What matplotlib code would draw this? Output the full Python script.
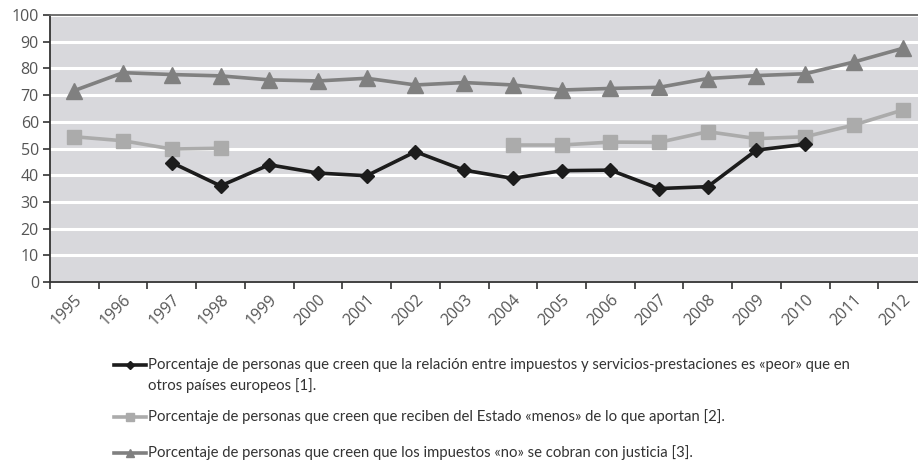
import numpy as np
import matplotlib
matplotlib.use("Agg")
import matplotlib.pyplot as plt
from matplotlib.lines import Line2D
from matplotlib.ticker import FixedLocator

years = ["1995", "1996", "1997", "1998", "1999", "2000", "2001", "2002", "2003",
         "2004", "2005", "2006", "2007", "2008", "2009", "2010", "2011", "2012"]

# [1] relación impuestos / servicios-prestaciones "peor" que en otros países europeos
peor = [np.nan, np.nan, 44.7, 36.0, 43.9, 40.8, 39.8, 48.8, 41.9,
        38.8, 41.7, 41.9, 35.0, 35.7, 49.4, 51.6, np.nan, np.nan]
# [2] reciben del Estado "menos" de lo que aportan
menos = [54.4, 52.9, 49.8, 50.1, np.nan, np.nan, np.nan, np.nan, np.nan,
         51.3, 51.3, 52.4, 52.3, 56.3, 53.7, 54.4, 58.8, 64.4]
# [3] los impuestos "no" se cobran con justicia
no_justicia = [71.7, 78.4, 77.7, 77.2, 75.7, 75.3, 76.3, 73.8, 74.7,
               73.8, 71.9, 72.5, 72.9, 76.2, 77.3, 78.0, 82.4, 87.5]

labels = [
    "Porcentaje de personas que creen que la relación entre impuestos y servicios-prestaciones es «peor» que en\notros países europeos [1].",
    "Porcentaje de personas que creen que reciben del Estado «menos» de lo que aportan [2].",
    "Porcentaje de personas que creen que los impuestos «no» se cobran con justicia [3].",
]

W, H = 918, 465
fig = plt.figure(figsize=(W / 100, H / 100), dpi=100)
ax = fig.add_axes([50 / W, 1 - 282 / H, 877 / W, 267 / H])
ax.set_facecolor("#d8d8dc")

styles = [
    dict(color="#1c1c1c", lw=2.6, marker="D", ms=7, zorder=5),
    dict(color="#ababab", lw=2.6, marker="s", ms=10, zorder=4),
    dict(color="#808080", lw=2.6, marker="^", ms=11, zorder=3),
]

x = np.arange(len(years))
for series, st in zip([peor, menos, no_justicia], styles):
    ax.plot(x, series, **st)

ax.set_xlim(-0.5, len(years) - 0.5)
ax.set_ylim(0, 100)
ax.set_yticks(np.arange(0, 101, 10))
ax.yaxis.grid(True, color="white", lw=2.2)
ax.set_axisbelow(True)

tick_font = ["Open Sans", "DejaVu Sans"]
ax.set_xticks(x)
ax.set_xticklabels(years, rotation=45, ha="right", rotation_mode="anchor",
                   fontsize=11.5, color="#555555", family=tick_font)
ax.tick_params(axis="x", which="major", length=0, pad=7)
# tick marks sit on the category boundaries
ax.xaxis.set_minor_locator(FixedLocator(np.arange(-0.5, len(years), 1.0)))
ax.tick_params(axis="x", which="minor", length=5, width=1.2, color="#333333")
for t in ax.get_yticklabels():
    t.set_family(tick_font)
ax.tick_params(axis="y", length=5, width=1.2, color="#333333", labelsize=11.5,
               labelcolor="#555555", pad=3)

for side in ("left", "bottom", "top"):
    ax.spines[side].set_color("#333333")
    ax.spines[side].set_linewidth(1.3)
ax.spines["top"].set_color("#666666")
ax.spines["right"].set_visible(False)

# Legend below the plot: a short keyed line per series, text to its right
legend_font = dict(fontsize=10.7, color="#333333", family=["Lato", "DejaVu Sans"])
key_x0, key_x1, text_x = 114, 146, 148
row_y = [365, 417, 453]
marker_scale = [0.64, 0.6, 0.56]
for st, lab, y, ms_k in zip(styles, labels, row_y, marker_scale):
    fy = 1 - y / H
    fig.add_artist(Line2D([key_x0 / W, key_x1 / W], [fy, fy], transform=fig.transFigure,
                          color=st["color"], lw=2.6))
    fig.add_artist(Line2D([(key_x0 + key_x1) / 2 / W], [fy], transform=fig.transFigure,
                          color=st["color"], marker=st["marker"], ms=st["ms"] * ms_k,
                          ls="none"))
    for i, line in enumerate(lab.split("\n")):
        fig.text(text_x / W, 1 - (y + 21 * i) / H, line, ha="left", va="center",
                 **legend_font)

fig.savefig("out.png", dpi=100)
